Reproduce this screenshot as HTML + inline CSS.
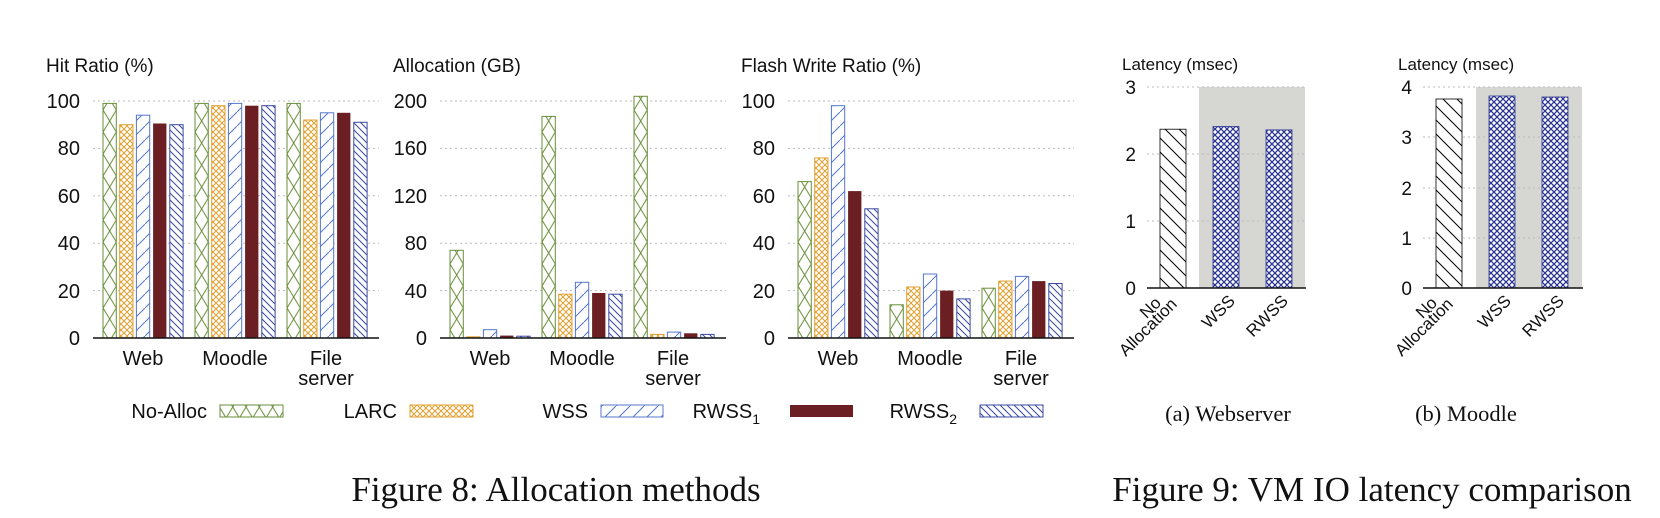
<!DOCTYPE html>
<html><head><meta charset="utf-8"><style>
body{margin:0;background:#fff;}
svg{display:block;font-family:"Liberation Sans",sans-serif;}
.t{font-size:20px;fill:#111}
.x{font-size:20px;fill:#111}
.s{font-family:"Liberation Serif",serif;fill:#111}
.g{stroke:#bbb;stroke-width:1;stroke-dasharray:2,3}
</style></head><body>
<svg width="1660" height="518" viewBox="0 0 1660 518">
<defs>
<pattern id="pA" width="13.3" height="22" patternUnits="userSpaceOnUse"><rect width="14" height="22" fill="#fff"/><path d="M0,0L13.3,22M13.3,0L0,22" stroke="#6a8f3a" stroke-width="1"/></pattern>
<pattern id="pL" width="6" height="6" patternUnits="userSpaceOnUse"><rect width="6" height="6" fill="#fff"/><path d="M0,0L6,6M6,0L0,6" stroke="#e0a030" stroke-width="1"/></pattern>
<pattern id="pW" width="14" height="14" patternUnits="userSpaceOnUse"><rect width="14" height="14" fill="#fff"/><path d="M0,14L14,0" stroke="#5577cc" stroke-width="1"/></pattern>
<pattern id="pR" width="7" height="7" patternUnits="userSpaceOnUse"><rect width="7" height="7" fill="#fff"/><path d="M0,0L7,7M-1,6L1,8M6,-1L8,1" stroke="#3a4aa0" stroke-width="1"/></pattern>
<pattern id="pN" width="14" height="14" patternUnits="userSpaceOnUse"><rect width="14" height="14" fill="#fff"/><path d="M0,0L14,14M-2,12L2,16M12,-2L16,2" stroke="#000" stroke-width="1"/></pattern>
<pattern id="pX" width="6" height="6" patternUnits="userSpaceOnUse"><rect width="6" height="6" fill="#fff"/><path d="M0,0L6,6M6,0L0,6" stroke="#2a3590" stroke-width="1.3"/></pattern>
</defs>

<!-- Chart 1 -->
<text x="46" y="72" font-size="19" fill="#111">Hit Ratio (%)</text>
<g class="t" text-anchor="end"><text x="80" y="108">100</text><text x="80" y="155">80</text><text x="80" y="203">60</text><text x="80" y="250">40</text><text x="80" y="298">20</text><text x="80" y="345">0</text></g>
<g class="g"><line x1="93" x2="379" y1="101" y2="101"/><line x1="93" x2="379" y1="148.4" y2="148.4"/><line x1="93" x2="379" y1="195.8" y2="195.8"/><line x1="93" x2="379" y1="243.2" y2="243.2"/><line x1="93" x2="379" y1="290.6" y2="290.6"/></g>
<g transform="translate(103,0)">
<rect x="0" y="103.4" width="13.3" height="234.6" fill="url(#pA)" stroke="#6a8f3a"/><rect x="16.7" y="124.7" width="13.3" height="213.3" fill="url(#pL)" stroke="#e0a030"/><rect x="33.4" y="115.2" width="13.3" height="222.8" fill="url(#pW)" stroke="#5577cc"/><rect x="50.1" y="123.5" width="13.3" height="214.5" fill="#6b1f22"/><rect x="66.8" y="124.7" width="13.3" height="213.3" fill="url(#pR)" stroke="#3a4aa0"/></g>
<g transform="translate(195,0)">
<rect x="0" y="103.4" width="13.3" height="234.6" fill="url(#pA)" stroke="#6a8f3a"/><rect x="16.7" y="105.7" width="13.3" height="232.3" fill="url(#pL)" stroke="#e0a030"/><rect x="33.4" y="103.4" width="13.3" height="234.6" fill="url(#pW)" stroke="#5577cc"/><rect x="50.1" y="105.7" width="13.3" height="232.3" fill="#6b1f22"/><rect x="66.8" y="105.7" width="13.3" height="232.3" fill="url(#pR)" stroke="#3a4aa0"/></g>
<g transform="translate(287,0)">
<rect x="0" y="103.4" width="13.3" height="234.6" fill="url(#pA)" stroke="#6a8f3a"/><rect x="16.7" y="120" width="13.3" height="218" fill="url(#pL)" stroke="#e0a030"/><rect x="33.4" y="112.8" width="13.3" height="225.2" fill="url(#pW)" stroke="#5577cc"/><rect x="50.1" y="112.8" width="13.3" height="225.2" fill="#6b1f22"/><rect x="66.8" y="122.3" width="13.3" height="215.7" fill="url(#pR)" stroke="#3a4aa0"/></g>
<line x1="93" x2="379" y1="338" y2="338" stroke="#111" stroke-width="1.5"/>
<g class="x" text-anchor="middle"><text x="143" y="365">Web</text><text x="235" y="365">Moodle</text><text x="326" y="365">File</text><text x="326" y="385">server</text></g>

<!-- Chart 2 -->
<text x="393" y="72" font-size="19" fill="#111">Allocation (GB)</text>
<g class="t" text-anchor="end"><text x="427" y="108">200</text><text x="427" y="155">160</text><text x="427" y="203">120</text><text x="427" y="250">80</text><text x="427" y="298">40</text><text x="427" y="345">0</text></g>
<g class="g"><line x1="440" x2="726" y1="101" y2="101"/><line x1="440" x2="726" y1="148.4" y2="148.4"/><line x1="440" x2="726" y1="195.8" y2="195.8"/><line x1="440" x2="726" y1="243.2" y2="243.2"/><line x1="440" x2="726" y1="290.6" y2="290.6"/></g>
<g transform="translate(450,0)">
<rect x="0" y="250.3" width="13.3" height="87.7" fill="url(#pA)" stroke="#6a8f3a"/><rect x="16.7" y="336.8" width="13.3" height="1.2" fill="url(#pL)" stroke="#e0a030"/><rect x="33.4" y="329.7" width="13.3" height="8.3" fill="url(#pW)" stroke="#5577cc"/><rect x="50.1" y="335.6" width="13.3" height="2.4" fill="#6b1f22"/><rect x="66.8" y="336.2" width="13.3" height="1.8" fill="url(#pR)" stroke="#3a4aa0"/></g>
<g transform="translate(542,0)">
<rect x="0" y="116.4" width="13.3" height="221.6" fill="url(#pA)" stroke="#6a8f3a"/><rect x="16.7" y="294.2" width="13.3" height="43.8" fill="url(#pL)" stroke="#e0a030"/><rect x="33.4" y="282.3" width="13.3" height="55.7" fill="url(#pW)" stroke="#5577cc"/><rect x="50.1" y="293" width="13.3" height="45" fill="#6b1f22"/><rect x="66.8" y="294.2" width="13.3" height="43.8" fill="url(#pR)" stroke="#3a4aa0"/></g>
<g transform="translate(634,0)">
<rect x="0" y="96.3" width="13.3" height="241.7" fill="url(#pA)" stroke="#6a8f3a"/><rect x="16.7" y="334.4" width="13.3" height="3.6" fill="url(#pL)" stroke="#e0a030"/><rect x="33.4" y="332.1" width="13.3" height="5.9" fill="url(#pW)" stroke="#5577cc"/><rect x="50.1" y="333.3" width="13.3" height="4.7" fill="#6b1f22"/><rect x="66.8" y="334.4" width="13.3" height="3.6" fill="url(#pR)" stroke="#3a4aa0"/></g>
<line x1="440" x2="726" y1="338" y2="338" stroke="#111" stroke-width="1.5"/>
<g class="x" text-anchor="middle"><text x="490" y="365">Web</text><text x="582" y="365">Moodle</text><text x="673" y="365">File</text><text x="673" y="385">server</text></g>

<!-- Chart 3 -->
<text x="741" y="72" font-size="19" fill="#111">Flash Write Ratio (%)</text>
<g class="t" text-anchor="end"><text x="775" y="108">100</text><text x="775" y="155">80</text><text x="775" y="203">60</text><text x="775" y="250">40</text><text x="775" y="298">20</text><text x="775" y="345">0</text></g>
<g class="g"><line x1="788" x2="1074" y1="101" y2="101"/><line x1="788" x2="1074" y1="148.4" y2="148.4"/><line x1="788" x2="1074" y1="195.8" y2="195.8"/><line x1="788" x2="1074" y1="243.2" y2="243.2"/><line x1="788" x2="1074" y1="290.6" y2="290.6"/></g>
<g transform="translate(798,0)">
<rect x="0" y="181.6" width="13.3" height="156.4" fill="url(#pA)" stroke="#6a8f3a"/><rect x="16.7" y="157.9" width="13.3" height="180.1" fill="url(#pL)" stroke="#e0a030"/><rect x="33.4" y="105.7" width="13.3" height="232.3" fill="url(#pW)" stroke="#5577cc"/><rect x="50.1" y="191.1" width="13.3" height="146.9" fill="#6b1f22"/><rect x="66.8" y="208.8" width="13.3" height="129.2" fill="url(#pR)" stroke="#3a4aa0"/></g>
<g transform="translate(890,0)">
<rect x="0" y="304.8" width="13.3" height="33.2" fill="url(#pA)" stroke="#6a8f3a"/><rect x="16.7" y="287" width="13.3" height="51" fill="url(#pL)" stroke="#e0a030"/><rect x="33.4" y="274" width="13.3" height="64" fill="url(#pW)" stroke="#5577cc"/><rect x="50.1" y="290.6" width="13.3" height="47.4" fill="#6b1f22"/><rect x="66.8" y="298.9" width="13.3" height="39.1" fill="url(#pR)" stroke="#3a4aa0"/></g>
<g transform="translate(982,0)">
<rect x="0" y="288.2" width="13.3" height="49.8" fill="url(#pA)" stroke="#6a8f3a"/><rect x="16.7" y="281.1" width="13.3" height="56.9" fill="url(#pL)" stroke="#e0a030"/><rect x="33.4" y="276.4" width="13.3" height="61.6" fill="url(#pW)" stroke="#5577cc"/><rect x="50.1" y="281.1" width="13.3" height="56.9" fill="#6b1f22"/><rect x="66.8" y="283.5" width="13.3" height="54.5" fill="url(#pR)" stroke="#3a4aa0"/></g>
<line x1="788" x2="1074" y1="338" y2="338" stroke="#111" stroke-width="1.5"/>
<g class="x" text-anchor="middle"><text x="838" y="365">Web</text><text x="930" y="365">Moodle</text><text x="1021" y="365">File</text><text x="1021" y="385">server</text></g>

<!-- Legend -->
<g class="x" text-anchor="end">
<text x="207" y="418">No-Alloc</text><text x="397" y="418">LARC</text><text x="588" y="418">WSS</text>
<text x="760" y="418">RWSS<tspan font-size="14" dy="6">1</tspan></text>
<text x="957" y="418">RWSS<tspan font-size="14" dy="6">2</tspan></text></g>
<rect x="220" y="405" width="63" height="12" fill="url(#pA)" stroke="#6a8f3a"/>
<rect x="410" y="405" width="63" height="12" fill="url(#pL)" stroke="#e0a030"/>
<rect x="601" y="405" width="62" height="12" fill="url(#pW)" stroke="#5577cc"/>
<rect x="790" y="405" width="63" height="12" fill="#6b1f22"/>
<rect x="980" y="405" width="63" height="12" fill="url(#pR)" stroke="#3a4aa0"/>

<!-- Fig 9a -->
<text x="1122" y="70" font-size="17" fill="#111">Latency (msec)</text>
<rect x="1199" y="87" width="106" height="201" fill="#d6d6d2"/>
<g class="g"><line x1="1147" x2="1305" y1="87" y2="87"/><line x1="1147" x2="1305" y1="154" y2="154"/><line x1="1147" x2="1305" y1="221" y2="221"/></g>
<g font-size="19" fill="#111" text-anchor="end"><text x="1136" y="94">3</text><text x="1136" y="161">2</text><text x="1136" y="228">1</text><text x="1136" y="295">0</text></g>
<rect x="1160" y="129.2" width="26" height="158.8" fill="url(#pN)" stroke="#000" stroke-width="0.8"/>
<rect x="1213" y="126.5" width="26" height="161.5" fill="url(#pX)" stroke="#2a3590" stroke-width="0.8"/>
<rect x="1266" y="129.9" width="26" height="158.1" fill="url(#pX)" stroke="#2a3590" stroke-width="0.8"/>
<line x1="1147" x2="1306" y1="288" y2="288" stroke="#111" stroke-width="1.5"/>
<g font-size="17" fill="#111" text-anchor="end">
<text transform="translate(1162,304) rotate(-45)">No</text>
<text transform="translate(1178,305) rotate(-45)">Allocation</text>
<text transform="translate(1236,302) rotate(-45)">WSS</text>
<text transform="translate(1289,302) rotate(-45)">RWSS</text></g>
<text class="s" x="1228" y="421" font-size="22.5" text-anchor="middle">(a) Webserver</text>

<!-- Fig 9b -->
<text x="1398" y="70" font-size="17" fill="#111">Latency (msec)</text>
<rect x="1476" y="87" width="106" height="201" fill="#d6d6d2"/>
<g class="g"><line x1="1423" x2="1582" y1="87" y2="87"/><line x1="1423" x2="1582" y1="137" y2="137"/><line x1="1423" x2="1582" y1="188" y2="188"/><line x1="1423" x2="1582" y1="238" y2="238"/></g>
<g font-size="19" fill="#111" text-anchor="end"><text x="1412" y="94">4</text><text x="1412" y="144">3</text><text x="1412" y="195">2</text><text x="1412" y="245">1</text><text x="1412" y="295">0</text></g>
<rect x="1436" y="99" width="26" height="189" fill="url(#pN)" stroke="#000" stroke-width="0.8"/>
<rect x="1489" y="96" width="26" height="192" fill="url(#pX)" stroke="#2a3590" stroke-width="0.8"/>
<rect x="1542" y="97" width="26" height="191" fill="url(#pX)" stroke="#2a3590" stroke-width="0.8"/>
<line x1="1423" x2="1583" y1="288" y2="288" stroke="#111" stroke-width="1.5"/>
<g font-size="17" fill="#111" text-anchor="end">
<text transform="translate(1438,304) rotate(-45)">No</text>
<text transform="translate(1454,305) rotate(-45)">Allocation</text>
<text transform="translate(1512,302) rotate(-45)">WSS</text>
<text transform="translate(1565,302) rotate(-45)">RWSS</text></g>
<text class="s" x="1466" y="421" font-size="22.5" text-anchor="middle">(b) Moodle</text>

<!-- Captions -->
<text class="s" x="556" y="501" font-size="35" text-anchor="middle">Figure 8: Allocation methods</text>
<text class="s" x="1372" y="501" font-size="35" text-anchor="middle">Figure 9: VM IO latency comparison</text>
</svg>
</body></html>
